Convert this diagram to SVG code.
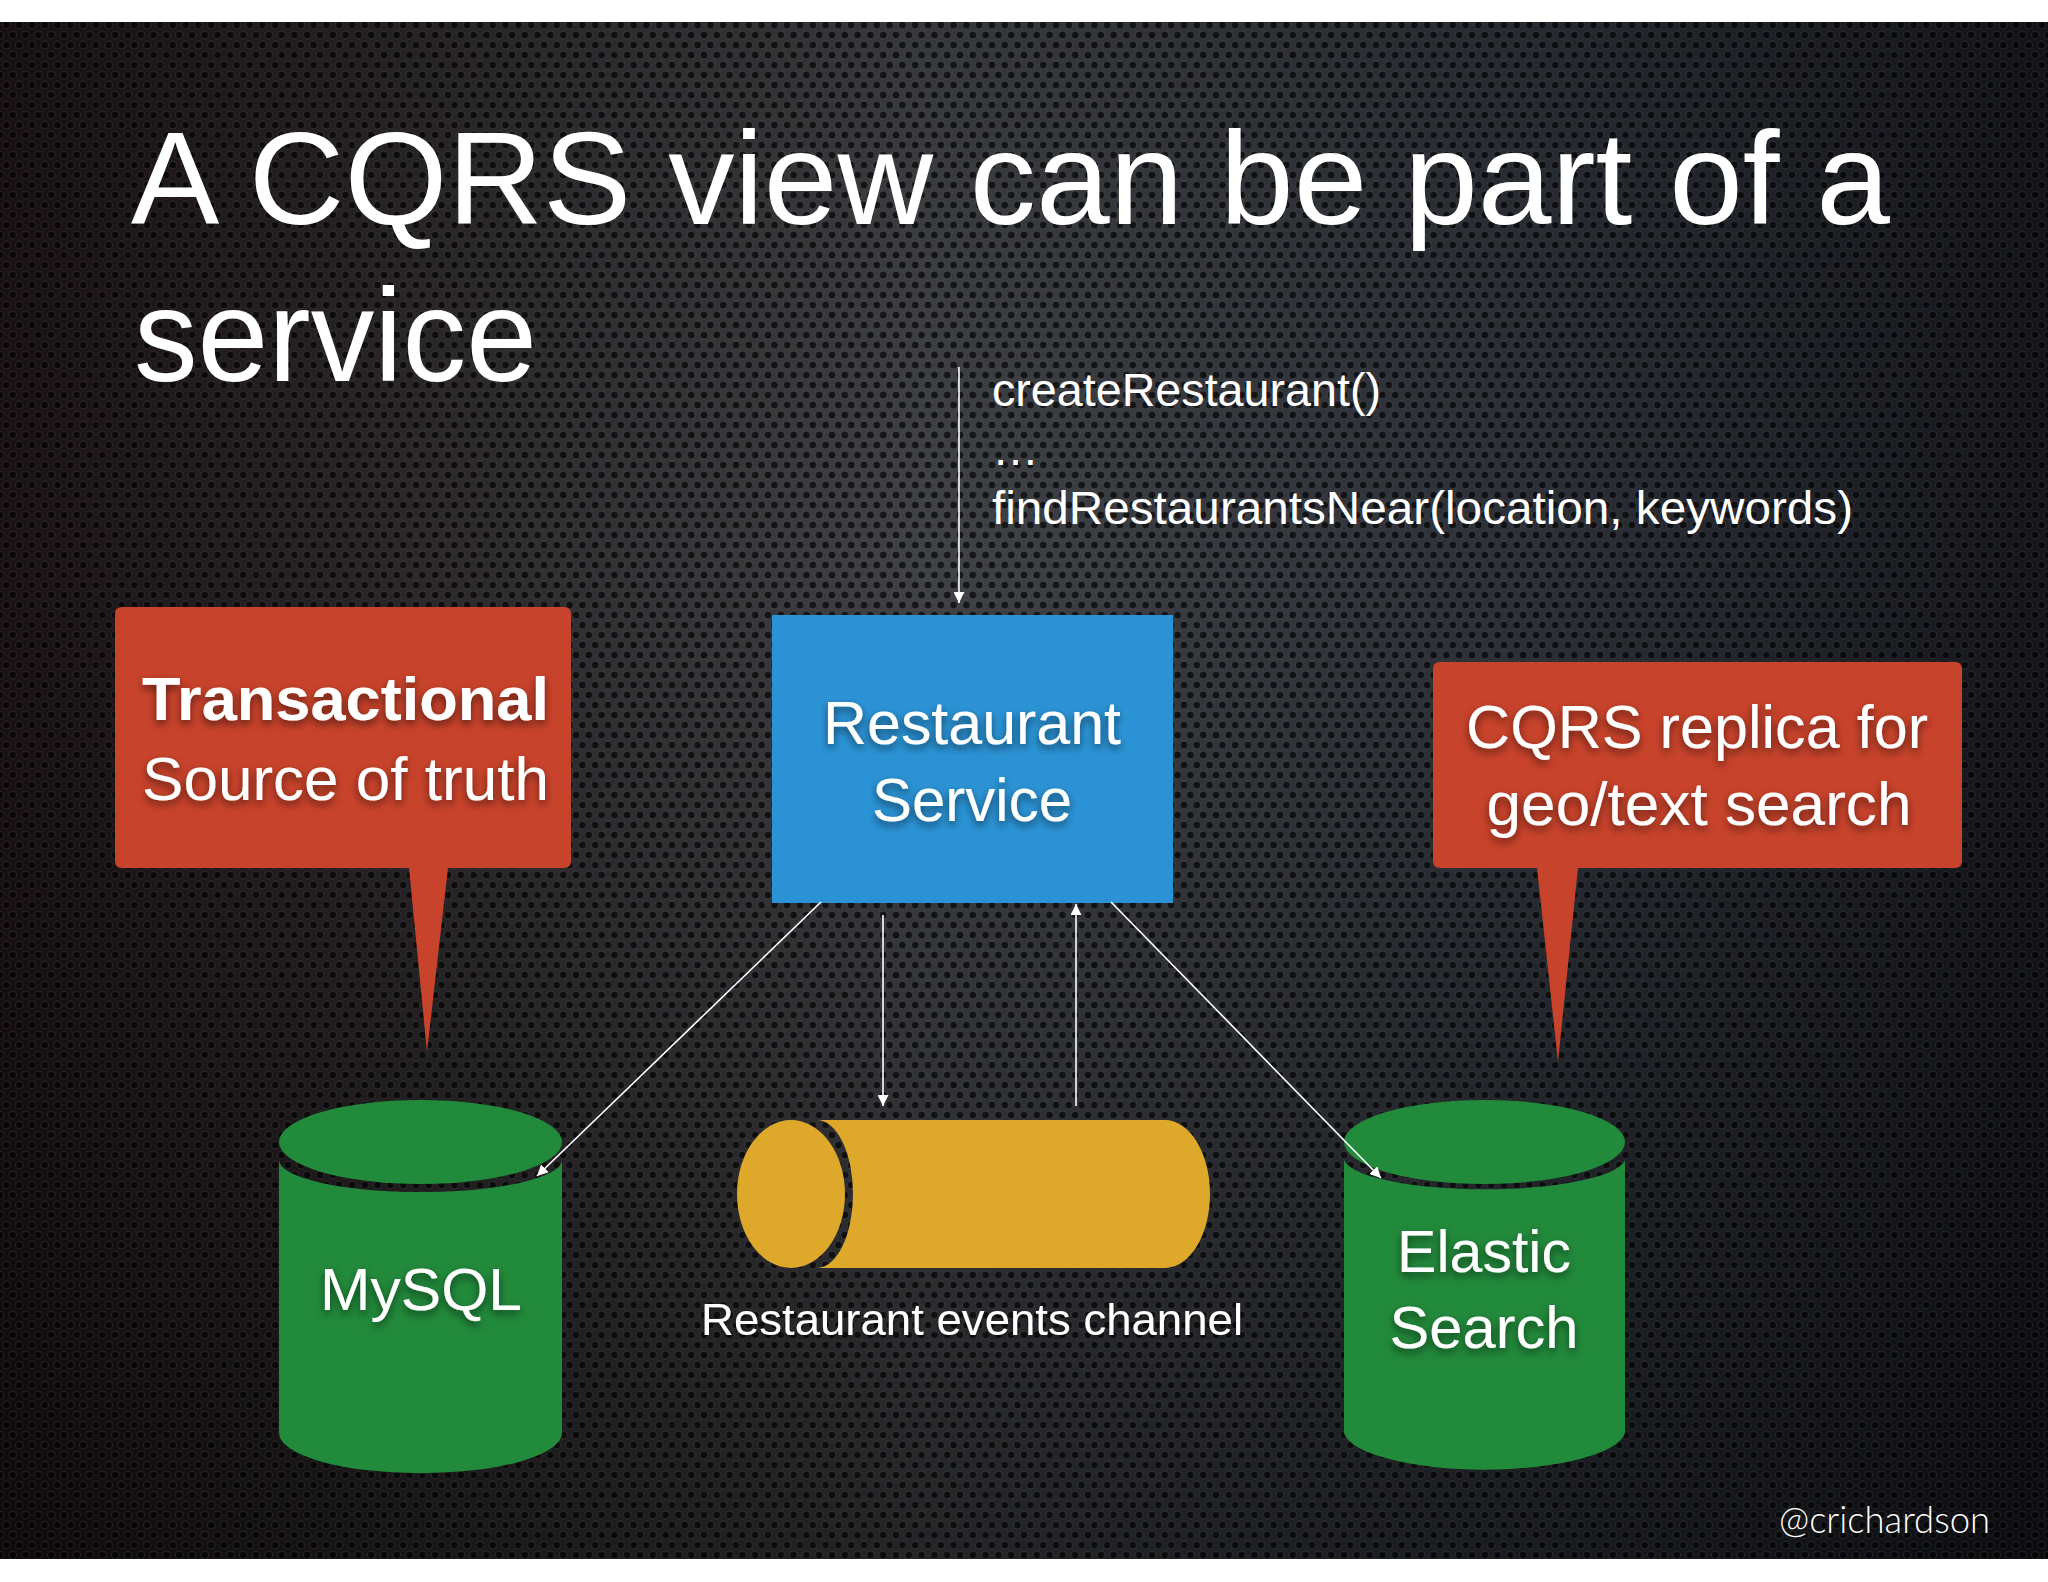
<svg xmlns="http://www.w3.org/2000/svg" width="2048" height="1582" viewBox="0 0 2048 1582">
  <defs>
    <linearGradient id="bgH" x1="0" y1="0" x2="1" y2="0">
      <stop offset="0" stop-color="#1a1113"/>
      <stop offset="0.45" stop-color="#404246"/>
      <stop offset="0.75" stop-color="#2c3038"/>
      <stop offset="1" stop-color="#15161c"/>
    </linearGradient>
    <linearGradient id="bgV" x1="0" y1="0" x2="0" y2="1">
      <stop offset="0" stop-color="#000" stop-opacity="0.15"/>
      <stop offset="0.35" stop-color="#000" stop-opacity="0"/>
      <stop offset="1" stop-color="#000" stop-opacity="0.45"/>
    </linearGradient>
    <pattern id="holes" x="0" y="0" width="12.8" height="20" patternUnits="userSpaceOnUse">
      <circle cx="6.4" cy="5" r="3.8" fill="#000" fill-opacity="0.65" stroke="#fff" stroke-opacity="0.08" stroke-width="1.4"/>
      <circle cx="0" cy="15" r="3.8" fill="#000" fill-opacity="0.65" stroke="#fff" stroke-opacity="0.08" stroke-width="1.4"/>
      <circle cx="12.8" cy="15" r="3.8" fill="#000" fill-opacity="0.65" stroke="#fff" stroke-opacity="0.08" stroke-width="1.4"/>
    </pattern>
    <filter id="tshadow" x="-10%" y="-30%" width="120%" height="160%">
      <feDropShadow dx="0" dy="4" stdDeviation="4" flood-color="#000" flood-opacity="0.55"/>
    </filter>
    <filter id="lshadow" x="-10%" y="-30%" width="120%" height="160%">
      <feDropShadow dx="0" dy="2" stdDeviation="2" flood-color="#000" flood-opacity="0.5"/>
    </filter>
    <marker id="arrow" viewBox="0 0 10 10" refX="10" refY="5" markerWidth="11" markerHeight="11" markerUnits="userSpaceOnUse" orient="auto">
      <path d="M0,0 L10,5 L0,10 Z" fill="#fff"/>
    </marker>
    <style>
      text { font-family: "Liberation Sans", Arial, sans-serif; fill: #fff; }
      .title { font-size: 131px; }
      .code { font-size: 47px; }
      .box { font-size: 61px; filter: url(#tshadow); }
      .db { font-size: 60px; filter: url(#tshadow); }
      .lbl { font-size: 45px; filter: url(#lshadow); }
      .conn { stroke: #fff; stroke-width: 1.6; fill: none; }
      .red { fill: #c8432b; }
      .green { fill: #228a3b; }
      .yellow { fill: #dea82a; }
      .blue { fill: #2b93d5; }
    </style>
  </defs>

  <!-- background -->
  <rect x="0" y="0" width="2048" height="1582" fill="#fff"/>
  <rect x="0" y="22" width="2048" height="1537" fill="url(#bgH)"/>
  <rect x="0" y="22" width="2048" height="1537" fill="url(#bgV)"/>
  <rect x="0" y="22" width="2048" height="1537" fill="url(#holes)"/>

  <!-- title -->
  <g id="title">
    <text class="title" x="131" y="224" textLength="1759" lengthAdjust="spacingAndGlyphs">A CQRS view can be part of a</text>
    <text class="title" x="134" y="381" textLength="403" lengthAdjust="spacingAndGlyphs">service</text>
  </g>

  <!-- operations text -->
  <g id="operations">
    <text class="code" x="992" y="406" textLength="389" lengthAdjust="spacingAndGlyphs">createRestaurant()</text>
    <text class="code" x="992" y="465">…</text>
    <text class="code" x="992" y="524" textLength="861" lengthAdjust="spacingAndGlyphs">findRestaurantsNear(location, keywords)</text>
  </g>

  <!-- Restaurant Service -->
  <g id="restaurant-service">
    <rect class="blue" x="772" y="615" width="401" height="288"/>
    <text class="box" x="972" y="744" text-anchor="middle" textLength="298" lengthAdjust="spacingAndGlyphs">Restaurant</text>
    <text class="box" x="972" y="821" text-anchor="middle" textLength="200" lengthAdjust="spacingAndGlyphs">Service</text>
  </g>

  <!-- Transactional callout -->
  <g id="callout-transactional">
    <path class="red" d="M122,607 H564 Q571,607 571,614 V861 Q571,868 564,868 H448 L427,1052 L409,868 H122 Q115,868 115,861 V614 Q115,607 122,607 Z"/>
    <text class="box" x="142" y="720" font-weight="bold" font-size="63" textLength="407" lengthAdjust="spacingAndGlyphs">Transactional</text>
    <text class="box" x="142" y="800" font-size="62" textLength="407" lengthAdjust="spacingAndGlyphs">Source of truth</text>
  </g>

  <!-- CQRS callout -->
  <g id="callout-cqrs">
    <path class="red" d="M1440,662 H1955 Q1962,662 1962,669 V861 Q1962,868 1955,868 H1578 L1558,1062 L1537,868 H1440 Q1433,868 1433,861 V669 Q1433,662 1440,662 Z"/>
    <text class="box" x="1697" y="748" text-anchor="middle" textLength="462" lengthAdjust="spacingAndGlyphs">CQRS replica for</text>
    <text class="box" x="1699" y="825" text-anchor="middle" textLength="425" lengthAdjust="spacingAndGlyphs">geo/text search</text>
  </g>

  <!-- MySQL -->
  <g id="mysql">
    <path class="green" d="M279,1160 A141,32 0 0 0 562,1160 V1433 A141,40 0 0 1 279,1433 Z"/>
    <ellipse class="green" cx="420.5" cy="1142" rx="141.5" ry="42"/>
    <text class="db" x="421" y="1310" text-anchor="middle" textLength="202" lengthAdjust="spacingAndGlyphs">MySQL</text>
  </g>

  <!-- Restaurant events channel -->
  <g id="events-channel">
    <path class="yellow" d="M817,1120 H1165 A45,74 0 0 1 1165,1268 H817 A36,74 0 0 0 817,1120 Z"/>
    <ellipse class="yellow" cx="791" cy="1194" rx="54" ry="74"/>
    <text class="lbl" x="972" y="1335" text-anchor="middle" textLength="542" lengthAdjust="spacingAndGlyphs">Restaurant events channel</text>
  </g>

  <!-- Elastic Search -->
  <g id="elastic-search">
    <path class="green" d="M1344,1160 A141,32 0 0 0 1625,1160 V1433 A141,40 0 0 1 1344,1433 Z"/>
    <ellipse class="green" cx="1484.5" cy="1142" rx="140.5" ry="42"/>
    <text class="db" x="1484" y="1272" text-anchor="middle" textLength="174" lengthAdjust="spacingAndGlyphs">Elastic</text>
    <text class="db" x="1484" y="1348" text-anchor="middle" textLength="189" lengthAdjust="spacingAndGlyphs">Search</text>
  </g>

  <!-- connectors -->
  <g id="connectors">
    <line class="conn" x1="959" y1="367" x2="959" y2="603" marker-end="url(#arrow)"/>
    <line class="conn" x1="821" y1="902" x2="537" y2="1176" marker-end="url(#arrow)"/>
    <line class="conn" x1="883" y1="915" x2="883" y2="1106" marker-end="url(#arrow)"/>
    <line class="conn" x1="1076" y1="1106" x2="1076" y2="904" marker-end="url(#arrow)"/>
    <line class="conn" x1="1111" y1="902" x2="1381" y2="1178" marker-end="url(#arrow)"/>
  </g>

  <!-- footer -->
  <text x="1779" y="1533" font-weight="300" font-size="38" textLength="211" lengthAdjust="spacingAndGlyphs" style="font-family: Lato, 'Open Sans', sans-serif;">@crichardson</text>
</svg>
